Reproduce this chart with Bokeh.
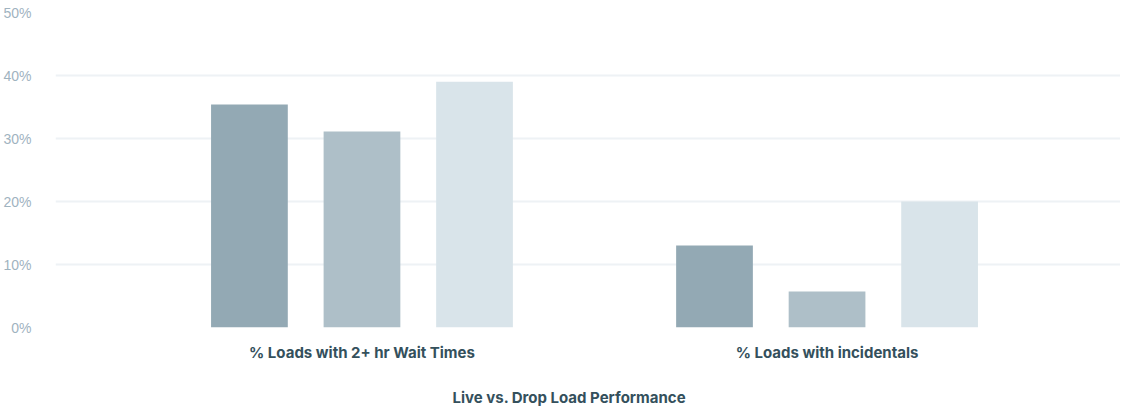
from bokeh.plotting import figure
from bokeh.models import ColumnDataSource, Range1d, FixedTicker, PrintfTickFormatter, Title
from bokeh.transform import dodge
from bokeh.embed import file_html
from bokeh.resources import INLINE

categories = ["% Loads with 2+ hr Wait Times", "% Loads with incidentals"]
series_names = ["Live", "Drop", "Overall"]
live = [35.4, 13.0]
drop = [31.1, 5.7]
overall = [39.0, 20.0]
y_ticks = [0, 10, 20, 30, 40, 50]
colors = ["#93a9b4", "#aebfc8", "#d9e4ea"]
x_title = "Live vs. Drop Load Performance"

idx = list(range(len(categories)))
source = ColumnDataSource(dict(x=idx, Live=live, Drop=drop, Overall=overall))

p = figure(x_range=Range1d(-0.659, 1.631), y_range=Range1d(0, 50), width=1120, height=409,
           output_backend="svg", toolbar_location=None,
           min_border_left=50, min_border_right=0, min_border_top=12, min_border_bottom=0)

offsets = [-0.242, 0.0, 0.242]
for name, off, col in zip(series_names, offsets, colors):
    p.vbar(x=dodge("x", off), top=name, width=0.165, source=source,
           fill_color=col, line_color=None)

p.outline_line_color = None
p.background_fill_color = "white"
p.border_fill_color = "white"

p.xgrid.grid_line_color = None
p.ygrid.grid_line_color = "#eef2f5"
p.ygrid.grid_line_width = 2
p.ygrid.ticker = FixedTicker(ticks=y_ticks)

p.yaxis.ticker = FixedTicker(ticks=y_ticks)
p.yaxis.formatter = PrintfTickFormatter(format="%d%%")
p.yaxis.axis_line_color = None
p.yaxis.major_tick_line_color = None
p.yaxis.minor_tick_line_color = None
p.yaxis.major_label_text_color = "#9fb3bf"
p.yaxis.major_label_text_font = "Liberation Sans"
p.yaxis.major_label_text_font_size = "14px"
p.yaxis.major_label_standoff = 18

p.xaxis.ticker = FixedTicker(ticks=idx)
p.xaxis.major_label_overrides = {i: c for i, c in zip(idx, categories)}
p.xaxis.axis_line_color = None
p.xaxis.major_tick_line_color = None
p.xaxis.minor_tick_line_color = None
p.xaxis.major_label_text_color = "#34505c"
p.xaxis.major_label_text_font = "Inter"
p.xaxis.major_label_text_font_style = "bold"
p.xaxis.major_label_text_font_size = "15px"
p.xaxis.major_label_standoff = 9

t = Title(text=x_title, align="left", offset=397, vertical_align="bottom",
          text_baseline="middle", text_color="#34505c",
          text_font="Inter", text_font_style="bold", text_font_size="15px", standoff=6,
          padding=dict(top=18, bottom=0, left=0, right=0))
p.add_layout(t, "below")

open("out.html", "w").write(file_html(p, INLINE))
